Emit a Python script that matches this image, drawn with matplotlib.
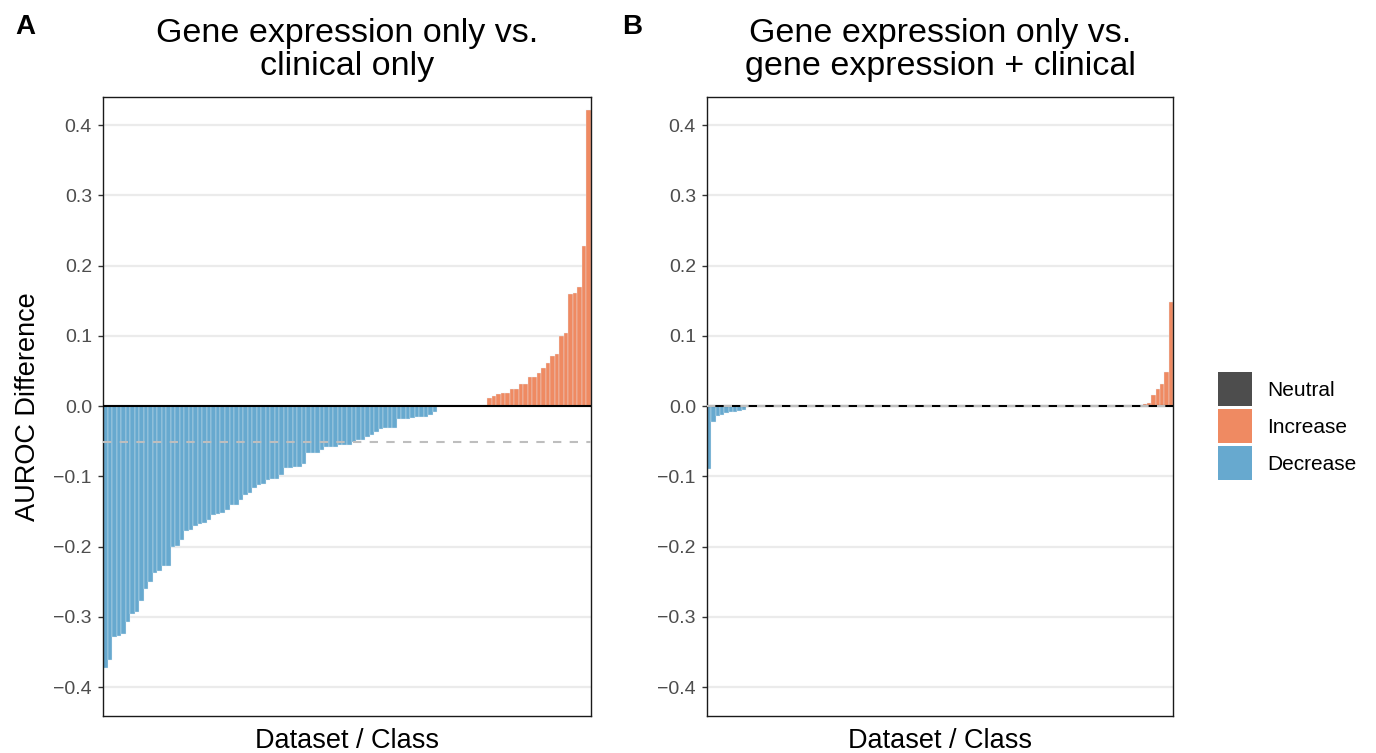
import numpy as np
import matplotlib
matplotlib.use("Agg")
from matplotlib import pyplot as plt
from matplotlib.patches import Patch

plt.rcParams['font.family'] = ['Liberation Sans', 'DejaVu Sans']

# AUROC differences per dataset / class, sorted
decrease_A = [-0.373, -0.361, -0.329, -0.327, -0.324, -0.307, -0.296, -0.293, -0.277, -0.260,
              -0.250, -0.237, -0.234, -0.227, -0.227, -0.200, -0.199, -0.191, -0.178, -0.176,
              -0.170, -0.168, -0.167, -0.162, -0.155, -0.153, -0.152, -0.148, -0.141, -0.140,
              -0.133, -0.127, -0.123, -0.116, -0.112, -0.111, -0.105, -0.103, -0.103,
              -0.098, -0.088, -0.088, -0.087, -0.086, -0.082, -0.067, -0.067, -0.067, -0.063,
              -0.058, -0.058, -0.058, -0.056, -0.056, -0.056, -0.051, -0.048, -0.048, -0.044,
              -0.041, -0.037, -0.033, -0.031, -0.031, -0.031, -0.019, -0.018, -0.018, -0.017,
              -0.016, -0.016, -0.015, -0.013, -0.008]
neutral_A = [0.0] * 10
increase_A = [0.001, 0.012, 0.014, 0.017, 0.019, 0.019, 0.025, 0.025, 0.031, 0.032,
              0.041, 0.041, 0.047, 0.054, 0.062, 0.071, 0.074, 0.100, 0.104, 0.160,
              0.161, 0.170, 0.228, 0.421]

decrease_B = [-0.090, -0.023, -0.014, -0.012, -0.010, -0.009, -0.008, -0.007, -0.006]
neutral_B = [0.0] * 91
increase_B = [0.001, 0.003, 0.005, 0.016, 0.025, 0.031, 0.049, 0.148]

ref_line_A = -0.051
ref_line_B = 0.0

titles = ["Gene expression only vs.\nclinical only",
          "Gene expression only vs.\ngene expression + clinical"]
yticks = [-0.4, -0.3, -0.2, -0.1, 0.0, 0.1, 0.2, 0.3, 0.4]

colors = {'Neutral': '#4D4D4D', 'Increase': '#EF8A62', 'Decrease': '#67A9CF'}

fig = plt.figure(figsize=(13.76, 7.53), dpi=100)
W, H = 1376, 753
ax_a = fig.add_axes([103 / W, 1 - 716 / H, 488 / W, 619 / H])
ax_b = fig.add_axes([707 / W, 1 - 716 / H, 466 / W, 619 / H])

panels = [(ax_a, decrease_A + neutral_A + increase_A, ref_line_A),
          (ax_b, decrease_B + neutral_B + increase_B, ref_line_B)]

for i, (ax, vals, ref) in enumerate(panels):
    vals = np.array(vals)
    x = np.arange(1, len(vals) + 1)
    cols = [colors['Increase'] if v > 0 else colors['Decrease'] if v < 0 else colors['Neutral']
            for v in vals]
    ax.bar(x, vals, width=1.0, color=cols, edgecolor='#E8F1F7', linewidth=0.25, zorder=2)
    ax.axhline(0, color='black', lw=1.5, zorder=3)
    ax.axhline(ref, color='#BEBEBE', lw=1.5, ls=(0, (4, 4)), zorder=4)
    ax.set_xlim(0.5, len(vals) + 0.5)
    ax.set_ylim(-0.441, 0.44)
    ax.set_yticks(yticks)
    ax.set_yticklabels([f"{t:.1f}".replace('-', '\u2212') for t in yticks])
    ax.set_xticks([])
    ax.grid(axis='y', color='#EBEBEB', lw=1.6, zorder=0)
    ax.set_axisbelow(True)
    for s in ax.spines.values():
        s.set_color('#1A1A1A')
        s.set_linewidth(1.0)
    ax.tick_params(axis='y', labelsize=14, labelcolor='#4D4D4D', color='#333333',
                   length=3.5, width=1, pad=4.5)
    ax.set_xlabel("Dataset / Class", fontsize=19.5, labelpad=9)
    ax.set_title(titles[i], fontsize=24.5, pad=16, linespacing=1.08)

ax_a.set_ylabel("AUROC Difference", fontsize=19.5, labelpad=9)

fig.text(25 / W, 1 - 27 / H, "A", fontsize=20, fontweight='bold', ha='center', va='center')
fig.text(632 / W, 1 - 27 / H, "B", fontsize=20, fontweight='bold', ha='center', va='center')

handles = [Patch(facecolor=colors[k], edgecolor='none', label=k)
           for k in ['Neutral', 'Increase', 'Decrease']]
fig.legend(handles=handles, loc='upper left', bbox_to_anchor=(1218 / W, 1 - 372 / H),
           frameon=False, fontsize=15, handlelength=1.63, handleheight=2.13,
           labelspacing=0.15, handletextpad=0.75, borderpad=0, borderaxespad=0)

fig.savefig("out.png", dpi=100)
